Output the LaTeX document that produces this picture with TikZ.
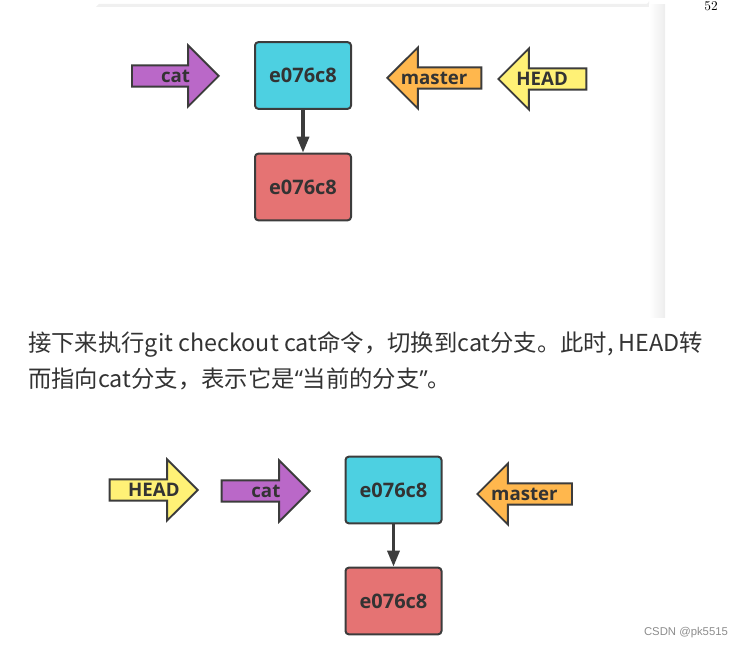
\documentclass[tikz,border=0pt]{standalone}
\usepackage{fontspec}
\setmainfont{Open Sans}
\newfontfamily\cjk{Noto Sans CJK SC}
\newfontfamily\wmfont{Liberation Sans}
\usetikzlibrary{shapes.arrows,arrows.meta,calc}
\definecolor{linec}{HTML}{3C3C3C}
\definecolor{textc}{HTML}{333333}
\definecolor{commitc}{HTML}{4DD0E1}
\definecolor{parentc}{HTML}{E57373}
\definecolor{catc}{HTML}{BA68C8}
\definecolor{masterc}{HTML}{FFB74D}
\definecolor{headc}{HTML}{FFF176}
\begin{document}
\begin{tikzpicture}[x=0.75pt,y=-0.75pt,
  commit/.style={draw=linec,line width=1.5pt,rounded corners=2.5pt,minimum width=72pt,minimum height=50pt,
    font=\bfseries\fontsize{15}{18}\selectfont,text=textc},
  ptr/.style={single arrow,draw=linec,line width=1.4pt,single arrow head extend=15pt,inner xsep=0pt,inner ysep=1.5pt,
    text height=10pt,text depth=1.5pt,minimum height=66pt,anchor=tip},
  toleft/.style={shape border rotate=180},
  ptrlabel/.style={font=\bfseries\fontsize{14}{16}\selectfont,text=textc,inner sep=0pt},
  para/.style={anchor=base west,inner sep=0,font=\cjk\fontsize{17.5}{20}\selectfont,text=textc},
  link/.style={draw=linec,line width=2.5pt,-{Triangle[length=12pt,width=9pt]}}]
\useasboundingbox (0,0) rectangle (743,648);
\fill[black!6] (99,4) -- (646,4) arc[start angle=90,end angle=0,radius=3] -- (649,7) -- (96,7) -- cycle;
\shade[left color=white,right color=black!7] (649,5) rectangle (665,318);
\node (page) at (711,6) {$52$};

\node[commit,fill=commitc] (c1) at (303,75.5) {e076c8};
\node[commit,fill=parentc] (c0) at (303,187) {e076c8};
\draw[link] (c1) -- (c0);
\node[ptr,fill=catc,minimum height=65pt] (cat) at (220,76) {};
\node[ptrlabel] (catl) at ($(cat.tip)!.5!(cat.tail)$) {cat};
\node[ptr,toleft,fill=masterc,minimum height=70.5pt] (master) at (386,78) {};
\node[ptrlabel] (masterl) at ($(master.tip)!.5!(master.tail)$) {master};
\node[ptr,toleft,fill=headc] (head) at (497,79) {};
\node[ptrlabel] (headl) at ($(head.tip)!.5!(head.tail)$) {HEAD};

\node[para] (line1) at (28,352) {接下来执行git checkout cat命令，切换到cat分支。此时, HEAD转};
\node[para] (line2) at (28,388) {而指向cat分支，表示它是\textrm{“}当前的分支\textrm{”}。};

\node[commit,fill=commitc] (c1b) at (393.5,490) {e076c8};
\node[commit,fill=parentc] (c0b) at (393.5,601) {e076c8};
\draw[link] (c1b) -- (c0b);
\node[ptr,fill=headc] (headb) at (199,490) {};
\node[ptrlabel] (headbl) at ($(headb.tip)!.5!(headb.tail)$) {HEAD};
\node[ptr,fill=catc] (catb) at (311,491) {};
\node[ptrlabel] (catbl) at ($(catb.tip)!.5!(catb.tail)$) {cat};
\node[ptr,toleft,fill=masterc,minimum height=71pt] (masterb) at (476,494) {};
\node[ptrlabel] (masterbl) at ($(masterb.tip)!.5!(masterb.tail)$) {master};

\node[font=\wmfont\fontsize{8.5}{10}\selectfont,text=black!45] (mark) at (686,633) {CSDN @pk5515};
\end{tikzpicture}
\end{document}
